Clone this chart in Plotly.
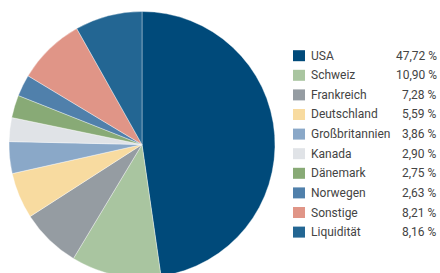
import plotly.graph_objects as go

countries = ["USA", "Schweiz", "Frankreich", "Deutschland", "Großbritannien",
             "Kanada", "Dänemark", "Norwegen", "Sonstige", "Liquidität"]
shares = [47.72, 10.90, 7.28, 5.59, 3.86, 2.90, 2.75, 2.63, 8.21, 8.16]
share_labels = ["47,72 %", "10,90 %", "7,28 %", "5,59 %", "3,86 %",
                "2,90 %", "2,75 %", "2,63 %", "8,21 %", "8,16 %"]
colors = ["#004a7a", "#a9c5a0", "#959ca2", "#f8dba0", "#8aa8c8",
          "#e0e3e7", "#88aa76", "#5080ab", "#e09587", "#236693"]

W, H = 440, 289  # taller than the window; bottom of the pie is cut like in the reference

fig = go.Figure()
fig.add_trace(go.Pie(
    values=shares, labels=countries, sort=False, direction="clockwise",
    rotation=0, marker=dict(colors=colors, line=dict(color="rgba(255,255,255,0.6)", width=0.6)),
    textinfo="none", showlegend=False, hoverinfo="label+percent",
    domain=dict(x=[9 / W, 275 / W], y=[0, 1]),
))

shapes = []
annotations = []
y0 = 55.7
dy = 19.6
for i, (c, lab, col) in enumerate(zip(countries, share_labels, colors)):
    yc = y0 + i * dy
    shapes.append(dict(type="rect", xref="paper", yref="paper",
                       x0=293 / W, x1=305 / W,
                       y0=1 - (yc + 5.5) / H, y1=1 - (yc - 5.5) / H,
                       fillcolor=col, line=dict(width=0)))
    annotations.append(dict(xref="paper", yref="paper", x=309 / W, y=1 - yc / H,
                            text=c, showarrow=False, xanchor="left", yanchor="middle",
                            font=dict(size=12, color="#444444", family="Roboto")))
    annotations.append(dict(xref="paper", yref="paper", x=439 / W, y=1 - yc / H,
                            text=lab, showarrow=False, xanchor="right", yanchor="middle",
                            font=dict(size=12, color="#444444", family="Roboto")))

fig.update_layout(width=W, height=H, margin=dict(l=0, r=0, t=0, b=0),
                  paper_bgcolor="white", plot_bgcolor="white",
                  shapes=shapes, annotations=annotations)

fig.write_html("out.html", config={"displayModeBar": False},
               post_script="document.body.style.margin='0';document.body.style.overflow='hidden';")
